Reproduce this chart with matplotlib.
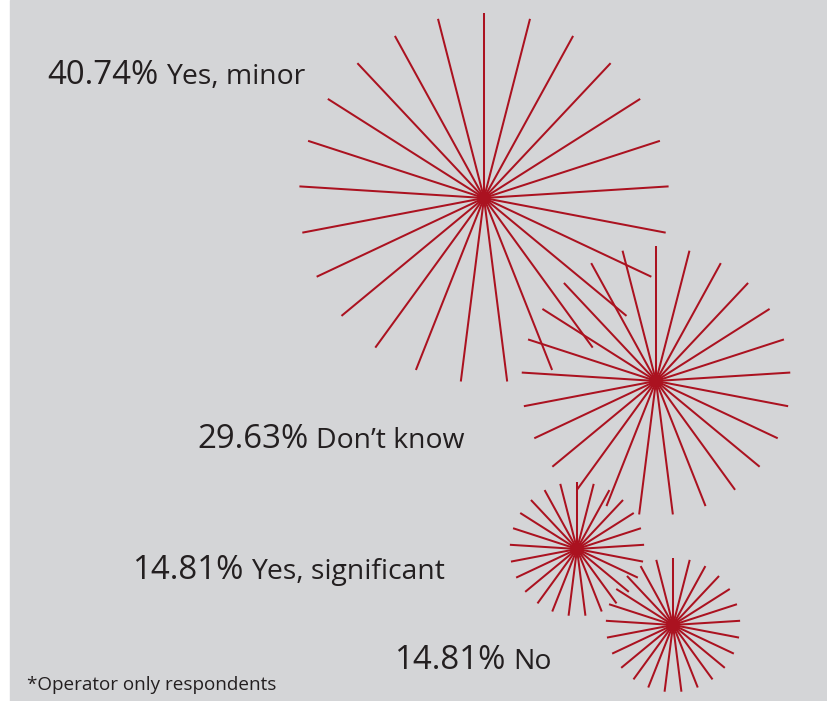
import numpy as np
import matplotlib
matplotlib.use("Agg")
import matplotlib.pyplot as plt
from matplotlib.collections import LineCollection
from matplotlib.patches import Rectangle, Circle

# data
values = [40.74, 29.63, 14.81, 14.81]
answers = ["Yes, minor", "Don\u2019t know", "Yes, significant", "No"]
note = "*Operator only respondents"

# layout (pixel coords, y down)
burst_centers = [(484, 198), (656, 381), (577, 549), (673, 625)]
label_pos = [(47, 84), (197, 448), (132, 579), (394, 669)]
px_per_pct = 4.54
n_rays = 25

red = "#ab1220"
grey = "#d4d5d7"
ink = "#231f20"

plt.rcParams['font.family'] = ['Open Sans', 'DejaVu Sans']

fig = plt.figure(figsize=(8.28, 7.01), dpi=100)
fig.patch.set_facecolor("white")
ax = fig.add_axes([0, 0, 1, 1])
ax.set_xlim(0, 828)
ax.set_ylim(701, 0)
ax.axis("off")
ax.add_patch(Rectangle((10, 0), 818, 701, color=grey, zorder=0))

angles = np.deg2rad(90 + np.arange(n_rays) * 360 / n_rays)
for (cx, cy), v in zip(burst_centers, values):
    r = v * px_per_pct
    segs = [[(cx, cy), (cx + r * np.cos(a), cy - r * np.sin(a))] for a in angles]
    ax.add_collection(LineCollection(segs, colors=red, linewidths=1.45, zorder=2))
    ax.add_patch(Circle((cx, cy), 6, color=red, zorder=3))

fig.canvas.draw()
inv = ax.transData.inverted()
for (x, y), v, a in zip(label_pos, values, answers):
    t = ax.text(x, y, f"{v:.2f}%", fontsize=23.8, color=ink, va="baseline", ha="left", zorder=4)
    bb = t.get_window_extent(renderer=fig.canvas.get_renderer())
    x1 = inv.transform((bb.x1, bb.y0))[0]
    ax.text(x1 + 8, y, a, fontsize=20.4, color=ink, va="baseline", ha="left", zorder=4)

ax.text(27, 690, note, fontsize=13.6, color=ink, va="baseline", ha="left")

fig.savefig("out.png", dpi=100, facecolor=fig.get_facecolor())
